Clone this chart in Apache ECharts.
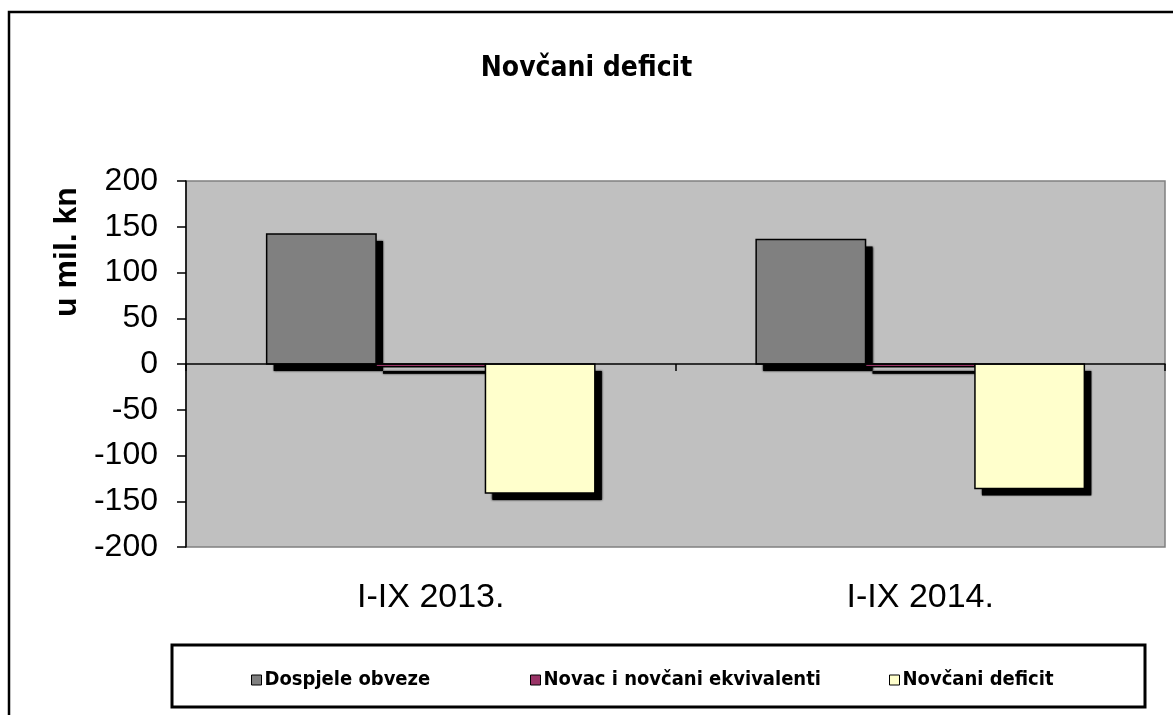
<!DOCTYPE html>
<html>
<head>
<meta charset="utf-8">
<script src="https://cdn.jsdelivr.net/npm/echarts@6/dist/echarts.min.js"></script>
<style>
  html, body { margin: 0; padding: 0; background: #fff; }
  #chart { width: 1173px; height: 715px; }
</style>
</head>
<body>
<div id="chart"></div>
<script>
const categories = ['I-IX 2013.', 'I-IX 2014.'];
const dospjele = [142, 136];
const novac = [-3, -3];
const deficit = [-141, -136];
const seriesNames = ['Dospjele obveze', 'Novac i novčani ekvivalenti', 'Novčani deficit'];
const seriesColors = ['#808080', '#993366', '#FFFFCC'];

const narrowFont = "'Liberation Sans Narrow', 'DejaVu Sans Condensed', 'Liberation Sans', sans-serif";

const chart = echarts.init(document.getElementById('chart'));

// bar with a hard black drop shadow, like the old Excel chart
function barRenderer(slot, color) {
  return function (params, api) {
    const idx = api.value(0);
    const val = api.value(1);
    const band = api.size([1, 0])[0];
    const barW = band * 0.2235;
    const center = api.coord([idx, 0]);
    const top = api.coord([idx, val]);
    const x = center[0] - 1.5 * barW + slot * barW;
    const y = Math.min(center[1], top[1]);
    const h = Math.abs(center[1] - top[1]);
    return {
      type: 'group',
      children: [
        { type: 'rect', z2: 0, shape: { x: x + 7, y: y + 7, width: barW, height: h }, style: { fill: '#000', shadowBlur: 2, shadowColor: '#000' } },
        { type: 'rect', z2: 10, shape: { x: x, y: y, width: barW, height: h }, style: { fill: color, stroke: '#000', lineWidth: 1.5 } },
      ],
    };
  };
}

const makeSeries = (i, data) => ({
  name: seriesNames[i],
  type: 'custom',
  data: data.map((v, k) => [k, v]),
  encode: { x: 0, y: 1 },
  itemStyle: { color: seriesColors[i], borderColor: '#000', borderWidth: 1 },
  renderItem: barRenderer(i, seriesColors[i]),
});

const legendFor = (name, left) => ({
  data: [name],
  left: left,
  top: 665,
  icon: 'rect',
  itemWidth: 10,
  itemHeight: 10,
  itemStyle: { borderColor: '#000', borderWidth: 1 },
  textStyle: { fontFamily: narrowFont, fontWeight: 'bold', fontSize: 20, color: '#000', padding: [0, 0, 0, -2] },
});

chart.setOption({
  animation: false,
  backgroundColor: '#fff',
  title: {
    text: 'Novčani deficit',
    left: 'center',
    top: 50,
    textStyle: { fontFamily: narrowFont, fontWeight: 'bold', fontSize: 28, color: '#000' },
  },
  graphic: [
    { type: 'rect', shape: { x: 9, y: 12, width: 1200, height: 720 }, style: { fill: 'none', stroke: '#000', lineWidth: 2.5 }, z: -1 },
    { type: 'rect', shape: { x: 172, y: 645, width: 973, height: 62 }, style: { fill: '#fff', stroke: '#000', lineWidth: 3 }, z: 0 },
    {
      type: 'text', x: 67, y: 252, rotation: Math.PI / 2,
      style: { text: 'u mil. kn', fontFamily: 'Liberation Sans', fontWeight: 'bold', fontSize: 32, fill: '#000', align: 'center', verticalAlign: 'middle' },
    },
  ],
  legend: [
    legendFor(seriesNames[0], 246),
    legendFor(seriesNames[1], 525),
    legendFor(seriesNames[2], 884),
  ],
  grid: {
    left: 186, top: 181, right: 8, bottom: 168,
    show: true, backgroundColor: '#C0C0C0', borderColor: '#808080', borderWidth: 1.5,
  },
  xAxis: [
    {
      type: 'category', data: categories, z: 5,
      axisLine: { onZero: true, lineStyle: { color: '#000', width: 1.5 } },
      axisTick: { show: true, length: 7, lineStyle: { color: '#000', width: 1.5 } },
      axisLabel: { show: false },
    },
    {
      type: 'category', data: categories, position: 'bottom',
      axisLine: { show: false }, axisTick: { show: false },
      axisLabel: { margin: 34, fontFamily: 'Liberation Sans', fontSize: 34, color: '#000' },
    },
  ],
  yAxis: {
    type: 'value', min: -200, max: 200, interval: 50,
    axisLine: { show: true, lineStyle: { color: '#000', width: 1.5 } },
    axisTick: { show: true, length: 9, lineStyle: { color: '#000', width: 1.5 } },
    axisLabel: { margin: 28, fontFamily: 'Liberation Sans', fontSize: 32, color: '#000' },
    splitLine: { show: false },
  },
  series: [
    makeSeries(0, dospjele),
    makeSeries(1, novac),
    makeSeries(2, deficit),
  ],
});
</script>
</body>
</html>
